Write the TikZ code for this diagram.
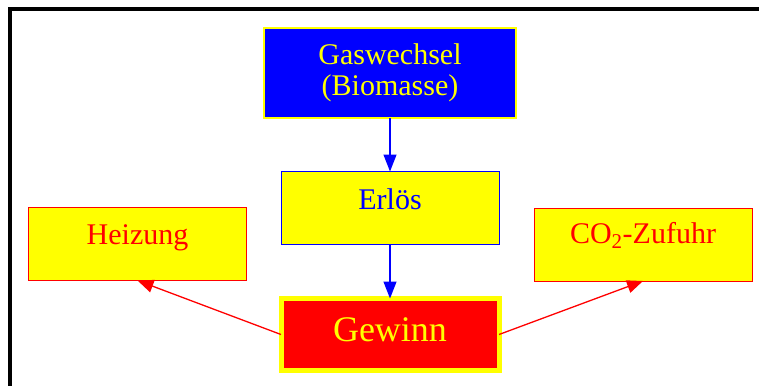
\documentclass[tikz,border=0pt]{standalone}
\usepackage{fontspec}
\setmainfont{Liberation Serif}
\usetikzlibrary{arrows.meta}
\definecolor{pblue}{RGB}{0,0,255}
\definecolor{pyellow}{RGB}{255,255,0}
\definecolor{pred}{RGB}{255,0,0}
\begin{document}
\begin{tikzpicture}[x=1pt,y=-1pt,
  box/.style={rectangle, inner sep=0pt, outer sep=0pt,
    minimum width=218pt, text height=37pt, text depth=36pt,
    font=\fontsize{30}{30}\selectfont},
  redbox/.style={box, draw=pred, fill=pyellow, text=pred, line width=1pt},
  bluebox/.style={box, draw=pblue, fill=pyellow, text=pblue, line width=1pt},
  bluearrow/.style={draw=pblue, line width=1.3pt, -{Triangle[length=17pt,width=13pt]}},
  redarrow/.style={draw=pred, line width=1.3pt, -{Triangle[length=16pt,width=13pt]}}]
  \useasboundingbox (0,0) rectangle (759,385);
  % outer frame, running past the page on the right and bottom
  \draw[line width=4.5pt] (10.2,9) rectangle (790,410);

  % nodes
  \node[rectangle, inner sep=0pt, outer sep=0pt, draw=pyellow, fill=pblue,
        text=pyellow, line width=2.3pt, minimum width=252pt, minimum height=90pt,
        align=center, font=\fontsize{30}{31.5}\selectfont]
        (gas) at (390,73) {Gaswechsel\\(Biomasse)};
  \node[bluebox, text height=38pt, text depth=35pt, anchor=north] (erl) at (390,171.5) {Erlös};
  \node[redbox, anchor=north] (hei) at (137.5,207.5) {Heizung};
  \node[redbox, text height=35.5pt, text depth=37.5pt, anchor=north] (co2) at (643,208) {CO\textsubscript{2}-Zufuhr};
  \node[rectangle, inner sep=0pt, outer sep=0pt, draw=pyellow, fill=pred,
        text=pyellow, line width=5pt, minimum width=218pt,
        text height=43pt, text depth=29pt, anchor=north,
        font=\fontsize{36}{36}\selectfont] (gew) at (390,298.5) {Gewinn};

  % connectors
  \draw[bluearrow] (gas.south) -- (erl.north);
  \draw[bluearrow] (erl.south) -- (gew.north);
  \draw[redarrow] (gew.west) -- (hei.south);
  \draw[redarrow] (gew.east) -- (co2.south);
\end{tikzpicture}
\end{document}
